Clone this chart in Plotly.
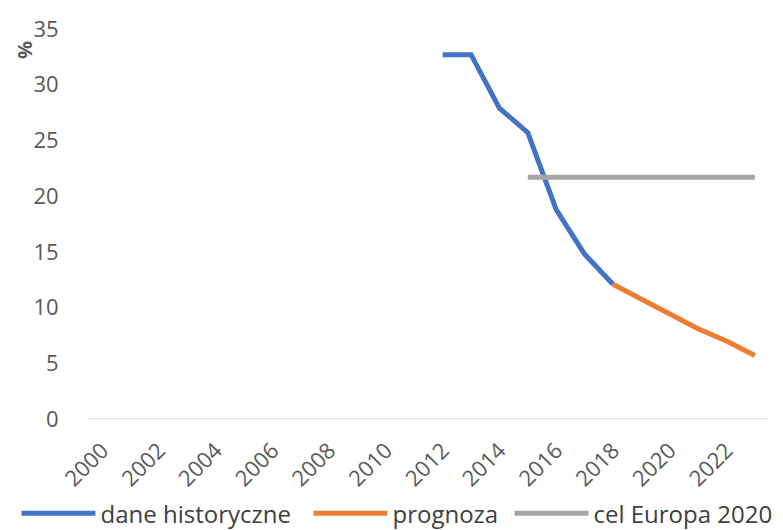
import plotly.graph_objects as go

hist_years = [2012, 2013, 2014, 2015, 2016, 2017, 2018]
hist_vals = [32.7, 32.7, 27.9, 25.7, 18.8, 14.8, 12.1]
prog_years = [2018, 2019, 2020, 2021, 2022, 2023]
prog_vals = [12.1, 10.8, 9.4, 8.1, 7.0, 5.7]
goal_years = [2015, 2016, 2017, 2018, 2019, 2020, 2021, 2022, 2023]
goal_vals = [21.7] * 9
tick_years = list(range(2000, 2023, 2))

FONT = "Open Sans"
TICK_COLOR = "#595959"
fig = go.Figure()
fig.add_trace(go.Scatter(x=hist_years, y=hist_vals, mode="lines", name="dane historyczne",
                         line=dict(color="#4472C4", width=5), legendwidth=203))
fig.add_trace(go.Scatter(x=prog_years, y=prog_vals, mode="lines", name="prognoza",
                         line=dict(color="#ED7D31", width=5), legendwidth=112))
fig.add_trace(go.Scatter(x=goal_years, y=goal_vals, mode="lines", name="cel Europa 2020",
                         line=dict(color="#A5A5A5", width=5)))

fig.update_layout(
    width=775, height=522,
    margin=dict(l=80, r=14, t=21, b=111, autoexpand=False),
    paper_bgcolor="white", plot_bgcolor="white",
    font=dict(family=FONT, size=22, color=TICK_COLOR),
    showlegend=True,
    legend=dict(orientation="h", x=-0.105, xanchor="left", y=-0.243, yanchor="middle",
                font=dict(size=24, color="#404040"), itemwidth=74,
                tracegroupgap=0, bgcolor="rgba(0,0,0,0)"),
    xaxis=dict(range=[1999.5, 2023.5], tickvals=tick_years, ticktext=[str(t) for t in tick_years],
               tickangle=-45, showgrid=False, zeroline=False, showline=False,
               ticks="outside", ticklen=9, tickcolor="rgba(0,0,0,0)",
               automargin=False, tickfont=dict(size=22, color=TICK_COLOR)),
    yaxis=dict(range=[0, 35], dtick=5, showgrid=False, zeroline=False, showline=False,
               ticks="outside", ticklen=24, tickcolor="rgba(0,0,0,0)",
               automargin=False, tickfont=dict(size=22, color=TICK_COLOR)),
    shapes=[dict(type="line", xref="paper", yref="y", x0=0, x1=1, y0=0, y1=0,
                 line=dict(color="#D9D9D9", width=1.5))],
    annotations=[dict(text="<b>%</b>", xref="paper", yref="paper", x=-0.094, y=0.946,
                      xanchor="center", yanchor="middle", textangle=-90, showarrow=False,
                      font=dict(size=20, color=TICK_COLOR, family=FONT))],
)
fig.write_html("out.html")
